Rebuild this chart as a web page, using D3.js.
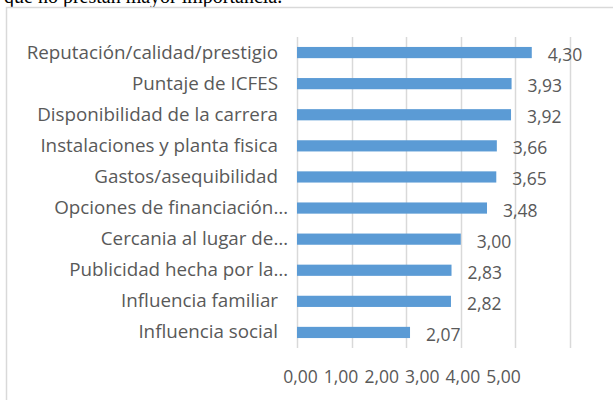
<!DOCTYPE html>
<html><head><meta charset="utf-8">
<script src="https://cdn.jsdelivr.net/npm/d3@7"></script>
<style>html,body{margin:0;padding:0;background:#fff;overflow:hidden}</style>
</head><body>
<svg id="c" width="613" height="400"></svg>
<script>
const categories = ["Reputación/calidad/prestigio","Puntaje de ICFES","Disponibilidad de la carrera","Instalaciones y planta fisica","Gastos/asequibilidad","Opciones de financiación…","Cercania al lugar de…","Publicidad hecha por la…","Influencia familiar","Influencia social"];
const values = [4.30,3.93,3.92,3.66,3.65,3.48,3.00,2.83,2.82,2.07];
const tickValues = [0,1,2,3,4,5];
const tickLabels = ["0,00","1,00","2,00","3,00","4,00","5,00"];
const caption = "que no prestan mayor importancia.";

const svg = d3.select("#c");
const font = "'Open Sans', Lato, sans-serif";
const textCol = "#595959";

// caption text cut at top
svg.append("text").attr("x",4).attr("y",3).attr("font-family","'Liberation Serif', 'Times New Roman', serif")
  .attr("font-size",20).attr("fill","#000").text(caption);

// chart border
svg.append("path").attr("d","M6.5,400 L6.5,7.5 L613,7.5").attr("fill","none").attr("stroke","#D9D9D9").attr("stroke-width",1.5);

const x = d3.scaleLinear().domain([0,5]).range([297,570]);
const y = d3.scaleBand().domain(categories).range([37,348]).paddingInner(0.64).paddingOuter(0.32);

// gridlines
svg.append("g").selectAll("line").data(tickValues).join("line")
  .attr("x1",d=>Math.round(x(d))+0.5).attr("x2",d=>Math.round(x(d))+0.5)
  .attr("y1",37).attr("y2",348).attr("stroke","#D9D9D9").attr("stroke-width",1.5);

// bars
svg.append("g").selectAll("rect").data(values).join("rect")
  .attr("x",x(0)).attr("y",(d,i)=>y(categories[i]))
  .attr("width",d=>x(d)-x(0)).attr("height",y.bandwidth())
  .attr("fill","#5B9BD5");

// category labels
const trunc = s => s.endsWith("…");
svg.append("g").selectAll("text").data(categories).join("text")
  .attr("x",d=>trunc(d)?288:278).attr("y",d=>y(d)+y.bandwidth()/2+6)
  .attr("text-anchor","end").attr("font-family",font).attr("font-size",18.8)
  .attr("fill",textCol).text(d=>d);

// data labels
svg.append("g").selectAll("text").data(values).join("text")
  .attr("x",d=>x(d)+16).attr("y",(d,i)=>y(categories[i])+y.bandwidth()/2+8.5)
  .attr("font-family",font).attr("font-size",17.5).attr("fill",textCol)
  .text(d=>d.toFixed(2).replace(".",","));

// x tick labels (squeezed as in the reference)
const xl = d3.scalePoint().domain(tickValues).range([300,503]);
const ax = svg.append("g").attr("transform","translate(0,370)")
  .call(d3.axisBottom(xl).tickSize(0).tickPadding(0).tickFormat((d,i)=>tickLabels[i]));
ax.select(".domain").remove();
ax.selectAll("text").attr("font-family",font).attr("font-size",17.5).attr("fill",textCol).attr("dy","0.75em");
</script>
</body></html>
